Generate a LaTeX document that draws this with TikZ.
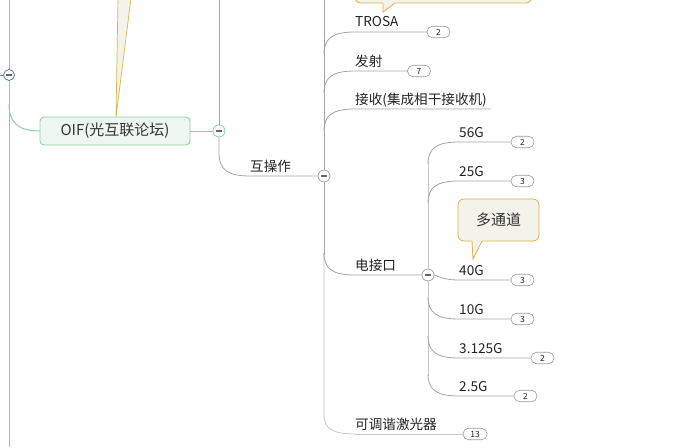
\documentclass[tikz,border=0pt]{standalone}
\usepackage{fontspec}
\setmainfont{Noto Sans CJK SC}
\definecolor{gline}{HTML}{8CCFA4}
\definecolor{oiffill}{HTML}{EDF6F0}
\definecolor{oifdraw}{HTML}{8FD1A7}
\definecolor{grA}{HTML}{A3A3A3}
\definecolor{grB}{HTML}{C6C6C6}
\definecolor{bluec}{HTML}{4F81BD}
\definecolor{cfill}{HTML}{F4F3EB}
\definecolor{cdraw}{HTML}{D8B445}
\definecolor{txt}{HTML}{222222}
\definecolor{bdraw}{HTML}{9A9A9A}
\begin{document}
\begin{tikzpicture}[x=1pt,y=-1pt,
  gl/.style={draw=gline,line width=1pt},
  ga/.style={draw=grA,line width=0.8pt},
  gb/.style={draw=grB,line width=0.8pt},
  lbl/.style={anchor=base west,inner sep=0pt,font=\fontsize{13.6}{13.6}\selectfont,text=txt},
  badge/.style={draw=bdraw,fill=white,rounded corners=5.5pt,minimum width=23pt,minimum height=11.5pt,inner sep=0pt,font=\fontsize{8.5}{8.5}\selectfont,text=txt,line width=0.6pt},
  collapse/.style={circle,fill=white,minimum size=12pt,inner sep=0pt,line width=0.8pt,
    path picture={\draw[line width=1.3pt,draw=black!60] ([xshift=-3pt]path picture bounding box.center) -- ([xshift=3pt]path picture bounding box.center);}},
  callbox/.style={draw=cdraw,fill=cfill,rounded corners=6pt,line width=0.8pt}
]
\useasboundingbox (0,0) rectangle (677,447);
\clip (0,0) rectangle (677,447);

% left green trunk
\coordinate (g0) at (0,75);
\coordinate (gtop) at (9,0);
\coordinate (gbot) at (9,447);
\draw[gl] (gtop) -- (gbot);
\node[collapse,draw=bluec,minimum size=11pt] (c0) at (9,75) {};
\draw[draw=bluec,line width=0.8pt] (g0) -- (c0.west);

% callout pointer towards OIF
\coordinate (pt1) at (116,117);
\coordinate (pt2) at (118,-2);
\coordinate (pt3) at (131,-2);
\draw[draw=cdraw,fill=cfill,line width=0.7pt] (pt1) -- (pt2) -- (pt3) -- cycle;

% OIF box
\node[draw=oifdraw,fill=oiffill,rounded corners=4pt,minimum width=150pt,minimum height=28pt,inner sep=0pt,line width=0.9pt,font=\fontsize{15}{15}\selectfont,text=black!80] (oif) at (115,131) {OIF(光互联论坛)};
\draw[gl] (9,104) .. controls (9,124) and (20,131) .. (oif.west);

% collapse after OIF
\node[collapse,draw=gline] (c1) at (219,131) {};
\draw[gl] (oif.east) -- (c1.west);
\coordinate (v1top) at (219,0);
\draw[ga] (v1top) -- (c1.north);

% 互操作
\node[collapse,draw=grA] (c2) at (324,176) {};
\draw[ga] (c1.south) -- (219,153) .. controls (219,170) and (228,176) .. (250,176) -- (c2.west);
\node[lbl] (hcz) at (250,171) {互操作};

% main vertical at 324
\coordinate (v2top) at (324,0);
\draw[ga] (v2top) -- (c2.north);
\draw[ga] (c2.south) -- (324,255);
\draw[gb] (324,253) -- (324,414) .. controls (324,429) and (333,434) .. (355,434);

% top callout (clipped)
\draw[callbox] (355,-40) rectangle (532,3);
\coordinate (tp1) at (383,3);
\coordinate (tp2) at (383,12);
\coordinate (tp3) at (395,3);
\fill[cfill] (382.5,2) -- (tp1) -- (tp2) -- (tp3) -- (395.5,2) -- cycle;
\draw[draw=cdraw,line width=0.8pt] (tp1) -- (tp2) -- (tp3);

% TROSA
\node[badge] (b1) at (438.5,32) {2};
\node[lbl] (l1) at (355,26.5) {TROSA};
\draw[ga] (324,54) .. controls (324,38) and (333,32) .. (355,32) -- (b1.west);

% 发射
\node[badge] (b2) at (419,71) {7};
\node[lbl] (l2) at (355,66) {发射};
\draw[ga] (324,93) .. controls (324,77) and (333,71) .. (355,71) -- (b2.west);

% 接收
\coordinate (e3) at (491,109);
\node[lbl] (l3) at (355,104) {接收(集成相干接收机)};
\draw[ga] (324,131) .. controls (324,115) and (333,109) .. (355,109) -- (e3);

% 电接口
\node[collapse,draw=grA] (c3) at (428,275) {};
\node[lbl] (l4) at (355,270) {电接口};
\draw[ga] (324,253) .. controls (324,269) and (333,275) .. (355,275) -- (c3.west);

% 可调谐激光器
\node[badge,minimum width=24pt] (b5) at (475,434) {13};
\node[lbl] (l5) at (355,429) {可调谐激光器};
\draw[gb] (355,434) -- (b5.west);

% sub-branches of 电接口
\draw[gb] (428,162) -- (c3.north);
\draw[gb] (c3.south) -- (428,376);

\node[badge] (s1) at (522.5,142) {2};
\node[lbl] (t1) at (459,137) {56G};
\draw[ga] (428,164) .. controls (428,148) and (437,142) .. (459,142) -- (s1.west);

\node[badge] (s2) at (522.5,181) {3};
\node[lbl] (t2) at (459,176) {25G};
\draw[ga] (428,203) .. controls (428,187) and (437,181) .. (459,181) -- (s2.west);

\node[badge] (s3) at (522.5,280) {3};
\node[lbl] (t3) at (459,275) {40G};
\draw[ga] (c3.east) .. controls (444,279) and (450,280) .. (459,280) -- (s3.west);

\node[badge] (s4) at (522.5,319) {3};
\node[lbl] (t4) at (459,314) {10G};
\draw[ga] (428,297) .. controls (428,313) and (437,319) .. (459,319) -- (s4.west);

\node[badge] (s5) at (542.5,358) {2};
\node[lbl] (t5) at (459,353) {3.125G};
\draw[ga] (428,336) .. controls (428,352) and (437,358) .. (459,358) -- (s5.west);

\node[badge] (s6) at (525.5,396) {2};
\node[lbl] (t6) at (459,391) {2.5G};
\draw[ga] (428,374) .. controls (428,390) and (437,396) .. (459,396) -- (s6.west);

% 多通道 callout
\node[callbox,minimum width=81pt,minimum height=42pt,inner sep=0pt,font=\fontsize{15}{15}\selectfont,text=black!80] (mtd) at (498.5,220) {多通道};
\coordinate (mp1) at (472,241);
\coordinate (mp2) at (473,259);
\coordinate (mp3) at (482,241);
\fill[cfill] (471.6,240) -- (mp1) -- (mp2) -- (mp3) -- (482.4,240) -- cycle;
\draw[draw=cdraw,line width=0.8pt] (mp1) -- (mp2) -- (mp3);
\end{tikzpicture}
\end{document}
